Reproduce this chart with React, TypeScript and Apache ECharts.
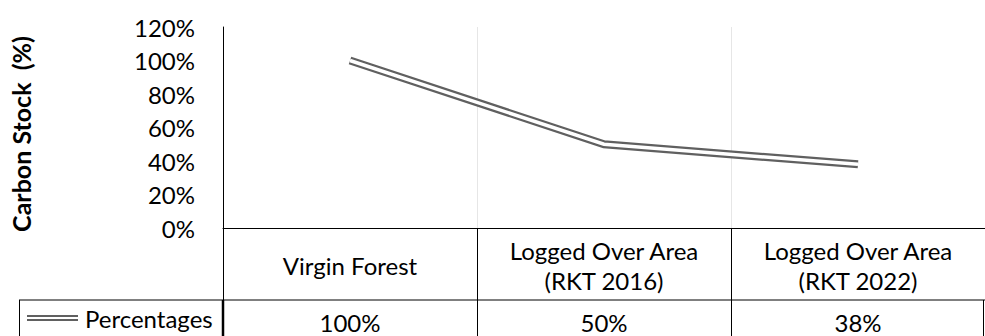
import React, { useEffect, useRef } from "react";
import * as echarts from "echarts";

const categories = ["Virgin Forest", "Logged Over Area\n(RKT 2016)", "Logged Over Area\n(RKT 2022)"];
const seriesName = "Percentages";
const values = [1.0, 0.5, 0.38];
const yTicks = { min: 0, max: 1.2, interval: 0.2 };
const yTitle = "Carbon Stock  (%)";

const FONT = "Lato";
const FS = 24;
const LINE_COLOR = "#606060";

export default function App() {
  const ref = useRef<HTMLDivElement>(null);
  useEffect(() => {
    document.body.style.margin = "0";
    const chart = echarts.init(ref.current!, null, { renderer: "svg" });
    const valueLabels = values.map((v) => Math.round(v * 100) + "%");
    chart.setOption({
      animation: false,
      backgroundColor: "#ffffff",
      textStyle: { fontFamily: FONT, color: "#000" },
      grid: { left: 223, top: 27, width: 790, height: 201 },
      legend: {
        data: [{ name: seriesName, icon: "path://M0,0H51V2H0Z M0,4H51V6H0Z" }],
        left: 27,
        top: 306,
        padding: 0,
        itemWidth: 51,
        itemHeight: 6,
        itemStyle: { color: LINE_COLOR },
        textStyle: { fontFamily: FONT, fontSize: FS, color: "#000", padding: [0, 0, 0, 2] },
        selectedMode: false,
      },
      xAxis: [
        {
          type: "category",
          data: categories,
          boundaryGap: true,
          axisLine: { show: true, lineStyle: { color: "#000", width: 1 } },
          axisTick: { show: true, interval: 0, length: 108, lineStyle: { color: "#000", width: 1 } },
          splitLine: { show: true, interval: 0, lineStyle: { color: "#e6e6e6", width: 1 } },
          axisLabel: {
            interval: 0,
            margin: 37,
            verticalAlign: "middle",
            fontFamily: FONT,
            fontSize: FS,
            lineHeight: 30,
            color: "#000",
            align: "center",
          },
        },
        {
          type: "category",
          data: valueLabels,
          position: "bottom",
          boundaryGap: true,
          axisLine: { show: false },
          axisTick: { show: false },
          splitLine: { show: false },
          axisLabel: {
            interval: 0,
            margin: 94,
            verticalAlign: "middle",
            fontFamily: FONT,
            fontSize: FS,
            color: "#000",
          },
        },
      ],
      yAxis: {
        type: "value",
        min: yTicks.min,
        max: yTicks.max,
        interval: yTicks.interval,
        name: yTitle,
        nameLocation: "middle",
        nameRotate: 90,
        nameGap: 190,
        nameTextStyle: { fontFamily: FONT, fontWeight: "bold", fontSize: 25, color: "#000", padding: [0, 13, 0, 0] },
        axisLine: { show: true, lineStyle: { color: "#000", width: 1 } },
        axisTick: { show: false },
        splitLine: { show: false },
        axisLabel: {
          margin: 28,
          fontFamily: FONT,
          fontSize: FS,
          color: "#000",
          formatter: (v: number) => Math.round(v * 100) + "%",
        },
      },
      series: [
        {
          name: seriesName,
          type: "line",
          data: values,
          symbol: "none",
          lineStyle: { color: LINE_COLOR, width: 8, join: "miter", cap: "butt" },
          z: 3,
        },
        {
          name: "inner",
          type: "line",
          data: values,
          symbol: "none",
          lineStyle: { color: "#ffffff", width: 3.5, join: "miter", cap: "butt" },
          z: 4,
          silent: true,
        },
      ],
      graphic: [
        { type: "line", shape: { x1: 19, y1: 300, x2: 985, y2: 300 }, style: { stroke: "#000", lineWidth: 1 }, z: 10 },
        { type: "line", shape: { x1: 19.5, y1: 300, x2: 19.5, y2: 336 }, style: { stroke: "#000", lineWidth: 1 }, z: 10 },
        { type: "line", shape: { x1: 223, y1: 300, x2: 223, y2: 336 }, style: { stroke: "#000", lineWidth: 2.5 }, z: 10 },
        { type: "line", shape: { x1: 983.5, y1: 300, x2: 983.5, y2: 336 }, style: { stroke: "#000", lineWidth: 1 }, z: 10 },
      ],
    });
    return () => chart.dispose();
  }, []);
  return <div ref={ref} style={{ width: 985, height: 336 }} />;
}
